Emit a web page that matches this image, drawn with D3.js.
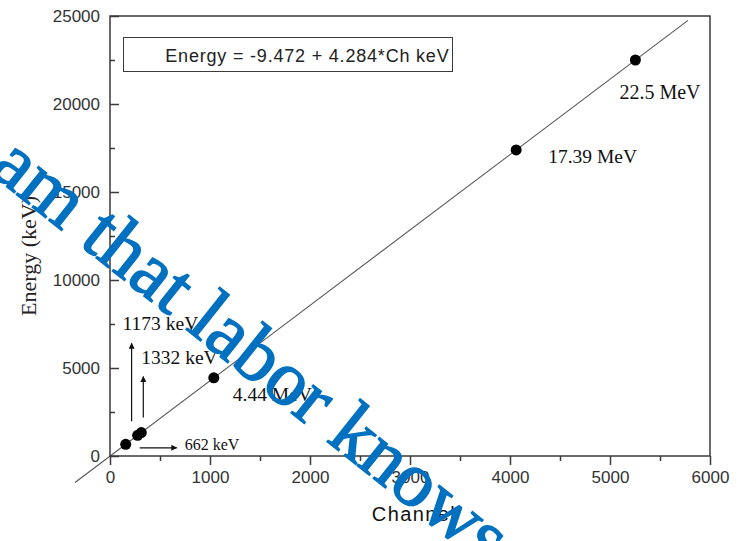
<!DOCTYPE html>
<html>
<head>
<meta charset="utf-8">
<script src="https://cdn.jsdelivr.net/npm/d3@7"></script>
<style>
  html, body { margin: 0; padding: 0; background: #fff; }
  svg { display: block; }
</style>
</head>
<body>
<script>
// Calibration peaks: channel position and known gamma energy (keV)
const peakNames = ["662 keV", "1173 keV", "1332 keV", "4.44 MeV", "17.39 MeV", "22.5 MeV"];
const channels = [157, 276, 313, 1038, 4062, 5254];
const energies = [662, 1173, 1332, 4440, 17390, 22500];

// Linear fit: Energy = intercept + slope * Ch
const fitIntercept = -9.472;
const fitSlope = 4.284;
const fitRange = [-350, 5780];

const xTicks = [0, 1000, 2000, 3000, 4000, 5000, 6000];
const xMinorTicks = [500, 1500, 2500, 3500, 4500, 5500];
const yTicks = [0, 5000, 10000, 15000, 20000, 25000];
const yMinorTicks = [2500, 7500, 12500, 17500, 22500];

const W = 745, H = 541;
const margin = { left: 110, top: 16, right: 35, bottom: 85 };
const pw = W - margin.left - margin.right;
const ph = H - margin.top - margin.bottom;

const svg = d3.select("body").append("svg")
  .attr("width", W).attr("height", H);

const x = d3.scaleLinear().domain([0, 6000]).range([margin.left, margin.left + pw]);
const y = d3.scaleLinear().domain([0, 25000]).range([margin.top + ph, margin.top]);

const axisColor = "#3a3a3a";
const sans = "Arial, 'Liberation Sans', sans-serif";
const serif = "'Times New Roman', 'Liberation Serif', serif";

// Fit line (runs past the frame at the lower left)
const fitLine = d3.line().x(d => x(d)).y(d => y(fitIntercept + fitSlope * d));
svg.append("path")
  .datum(fitRange)
  .attr("d", fitLine)
  .attr("fill", "none")
  .attr("stroke", "#555")
  .attr("stroke-width", 1.1);

// Frame
svg.append("rect")
  .attr("x", margin.left).attr("y", margin.top)
  .attr("width", pw).attr("height", ph)
  .attr("fill", "none").attr("stroke", axisColor).attr("stroke-width", 1.5);

// X axis: ticks point outward
const xAxis = svg.append("g")
  .attr("transform", `translate(0,${margin.top + ph})`)
  .call(d3.axisBottom(x).tickValues(xTicks).tickSize(9).tickPadding(6).tickFormat(d3.format("d")));
const xMinor = svg.append("g")
  .attr("transform", `translate(0,${margin.top + ph})`)
  .call(d3.axisBottom(x).tickValues(xMinorTicks).tickSize(5).tickFormat(""));

// Y axis: ticks point inward
const yAxis = svg.append("g")
  .attr("transform", `translate(${margin.left},0)`)
  .call(d3.axisRight(y).tickValues(yTicks).tickSize(9).tickFormat(""));
const yMinor = svg.append("g")
  .attr("transform", `translate(${margin.left},0)`)
  .call(d3.axisRight(y).tickValues(yMinorTicks).tickSize(5).tickFormat(""));
const yLabels = svg.append("g")
  .attr("transform", `translate(${margin.left},0)`)
  .call(d3.axisLeft(y).tickValues(yTicks).tickSize(0).tickPadding(10).tickFormat(d3.format("d")));

[xAxis, xMinor, yAxis, yMinor, yLabels].forEach(g => {
  g.select(".domain").remove();
  g.selectAll(".tick line").attr("stroke", axisColor).attr("stroke-width", 1.5);
  g.selectAll(".tick text")
    .attr("fill", "#333")
    .style("font-family", sans)
    .style("font-size", "17px");
});

// Axis titles
svg.append("text")
  .attr("x", margin.left + pw / 2 + 4)
  .attr("y", 521)
  .attr("text-anchor", "middle")
  .style("font-family", sans)
  .style("font-size", "20px")
  .style("letter-spacing", "1.4px")
  .attr("fill", "#111")
  .text("Channel");

svg.append("text")
  .attr("transform", `translate(36,${margin.top + ph / 2 + 20}) rotate(-90)`)
  .attr("text-anchor", "middle")
  .style("font-family", serif)
  .style("font-size", "22px")
  .attr("fill", "#222")
  .text("Energy (keV)");

// Fit equation box
const boxG = svg.append("g");
boxG.append("rect")
  .attr("x", margin.left + 13.5).attr("y", margin.top + 21.5)
  .attr("width", 329).attr("height", 34)
  .attr("fill", "#fff").attr("stroke", axisColor).attr("stroke-width", 1);
boxG.append("text")
  .attr("x", margin.left + 13.5 + 326).attr("y", margin.top + 45.5)
  .attr("text-anchor", "end")
  .style("font-family", sans)
  .style("font-size", "18px")
  .style("letter-spacing", "0.8px")
  .attr("fill", "#222")
  .text(`Energy = ${fitIntercept} + ${fitSlope}*Ch keV`);

// Calibration points
const peaks = peakNames.map((name, i) => ({ name, ch: channels[i], e: energies[i] }));
svg.append("g").selectAll("circle")
  .data(peaks)
  .join("circle")
  .attr("cx", d => x(d.ch))
  .attr("cy", d => y(d.e))
  .attr("r", 5.5)
  .attr("fill", "#000");

// Peak labels, offset from their points
const labelOffset = {
  "662 keV":   { dx: 59,  dy: 6,    size: 16 },
  "1173 keV":  { dx: -15, dy: -105, size: 19.5 },
  "1332 keV":  { dx: 0,   dy: -69,  size: 19.5 },
  "4.44 MeV":  { dx: 19,  dy: 23,   size: 19.5 },
  "17.39 MeV": { dx: 32,  dy: 13,   size: 19.5 },
  "22.5 MeV":  { dx: -16, dy: 39,   size: 20 }
};
svg.append("g").selectAll("text")
  .data(peaks)
  .join("text")
  .attr("x", d => x(d.ch) + labelOffset[d.name].dx)
  .attr("y", d => y(d.e) + labelOffset[d.name].dy)
  .style("font-family", serif)
  .style("font-size", d => labelOffset[d.name].size + "px")
  .attr("fill", "#111")
  .text(d => d.name);

// Arrows pointing to the low-energy peaks
const defs = svg.append("defs");
defs.append("marker")
  .attr("id", "arrowHead")
  .attr("viewBox", "0 0 10 10")
  .attr("refX", 9).attr("refY", 5)
  .attr("markerWidth", 8).attr("markerHeight", 6)
  .attr("markerUnits", "userSpaceOnUse")
  .attr("orient", "auto")
  .append("path")
  .attr("d", "M0,0 L10,5 L0,10 Z")
  .attr("fill", "#111");

const arrowSpec = {
  "1173 keV": { x1: -6, y1: -14, x2: -6, y2: -92 },
  "1332 keV": { x1: 2,  y1: -15, x2: 2,  y2: -56 },
  "662 keV":  { x1: 14, y1: 3.5, x2: 51, y2: 3.5 }
};
svg.append("g").selectAll("line")
  .data(peaks.filter(d => arrowSpec[d.name]))
  .join("line")
  .attr("x1", d => x(d.ch) + arrowSpec[d.name].x1)
  .attr("y1", d => y(d.e) + arrowSpec[d.name].y1)
  .attr("x2", d => x(d.ch) + arrowSpec[d.name].x2)
  .attr("y2", d => y(d.e) + arrowSpec[d.name].y2)
  .attr("stroke", "#111")
  .attr("stroke-width", 1.2)
  .attr("marker-end", "url(#arrowHead)");

// Watermark across the plot
svg.append("text")
  .attr("transform", "translate(-12,172) rotate(38.5)")
  .style("font-family", serif)
  .style("font-size", "78px")
  .attr("fill", "#0070c0")
  .attr("stroke", "#0070c0")
  .attr("stroke-width", 1.4)
  .text("am that labor knows");
</script>
</body>
</html>
